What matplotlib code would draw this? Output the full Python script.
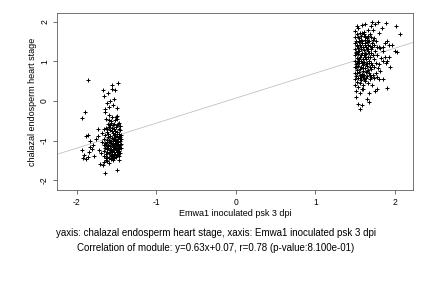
import matplotlib
matplotlib.use("Agg")
import matplotlib.pyplot as plt
import numpy as np

plt.rcParams['font.family'] = ['Liberation Sans', 'DejaVu Sans']

left_pts = [
(-1.93,-0.43),(-1.90,-0.27),(-1.86,0.53),(-1.94,-1.25),(-1.91,-1.36),(-1.92,-1.43),(-1.88,-1.47),(-1.86,-1.41),
(-1.89,-0.88),(-1.86,-0.86),(-1.84,-1.00),(-1.83,-1.16),(-1.81,-1.21),(-1.80,-1.12),(-1.85,-1.29),(-1.78,-1.38),
(-1.76,-0.96),(-1.74,-0.88),(-1.73,-0.71),(-1.72,-1.23),(-1.71,-1.58),(-1.70,-1.31),(-1.69,-1.03),(-1.68,-0.81),
(-1.67,-1.61),(-1.66,-1.54),(-1.65,-1.82),(-1.63,-1.50),(-1.67,0.28),(-1.66,0.12),(-1.645,-0.21),(-1.64,-0.29),
(-1.63,-0.46),(-1.62,-0.06),(-1.61,0.19),(-1.60,-0.16),(-1.59,-0.35),(-1.58,0.01),(-1.57,-0.51),(-1.56,0.40),
(-1.555,0.31),(-1.54,-0.11),(-1.53,0.06),(-1.52,0.27),(-1.51,-0.41),(-1.50,-0.37),(-1.49,-0.19),(-1.48,0.45),
(-1.47,-0.56),(-1.46,-0.63),(-1.50,-1.74),(-1.47,-1.48),
(-1.663,-0.72),(-1.657,-0.96),(-1.661,-1.11),(-1.654,-1.26),(-1.659,-1.38),(-1.648,-1.05),(-1.642,-1.19),(-1.637,-1.33),
(-1.645,-0.86),(-1.633,-0.69),(-1.639,-1.45),(-1.622,-0.98),(-1.618,-1.13),(-1.627,-1.28),(-1.615,-1.41),(-1.624,-0.78),
(-1.612,-0.59),(-1.620,-1.52),(-1.603,-0.91),(-1.598,-1.04),(-1.607,-1.18),(-1.596,-1.31),(-1.601,-1.43),(-1.594,-0.66),
(-1.605,-0.83),(-1.592,-1.56),(-1.583,-1.00),(-1.577,-1.15),(-1.586,-1.24),(-1.574,-1.36),(-1.581,-0.73),(-1.579,-0.88),
(-1.572,-1.46),(-1.568,-0.55),(-1.563,-0.94),(-1.558,-1.08),(-1.566,-1.21),(-1.553,-1.33),(-1.561,-1.42),(-1.556,-0.77),
(-1.549,-0.62),(-1.551,-1.50),(-1.559,-0.41),(-1.543,-1.02),(-1.537,-1.13),(-1.546,-1.22),(-1.534,-1.29),(-1.541,-1.38),
(-1.532,-0.86),(-1.539,-0.70),(-1.528,-1.45),(-1.531,-0.57),(-1.523,-0.92),(-1.518,-1.06),(-1.526,-1.16),(-1.514,-1.25),
(-1.521,-1.35),(-1.517,-0.76),(-1.512,-0.65),(-1.509,-1.41),(-1.524,-0.49),(-1.503,-1.00),(-1.497,-1.11),(-1.506,-1.19),
(-1.494,-1.30),(-1.501,-0.89),(-1.492,-0.79),(-1.499,-1.37),(-1.496,-0.60),(-1.489,-0.46),(-1.483,-0.95),(-1.478,-1.04),
(-1.486,-1.15),(-1.474,-1.26),(-1.481,-1.34),(-1.476,-0.83),(-1.472,-0.71),(-1.479,-0.58),(-1.463,-1.01),(-1.458,-1.12),
(-1.466,-1.21),(-1.455,-1.31),(-1.461,-0.91),(-1.457,-0.74),(-1.452,-0.63),(-1.468,-1.40),(-1.448,-1.08),(-1.446,-1.18),
(-1.450,-0.96),(-1.445,-0.85),
(-1.605,-1.10),(-1.585,-1.28),(-1.565,-1.02),(-1.545,-1.17),(-1.525,-1.09),(-1.505,-1.23),(-1.485,-1.09),(-1.465,-1.16),
(-1.615,-1.22),(-1.595,-0.98),(-1.575,-1.07),(-1.555,-1.27),(-1.535,-0.96),(-1.515,-1.19),(-1.495,-1.03),(-1.475,-1.20),
(-1.635,-1.12),(-1.625,-1.04),(-1.570,-1.40),(-1.550,-1.12),(-1.530,-1.33),(-1.510,-0.98),(-1.490,-1.25),(-1.470,-0.90),
(-1.540,-0.80),(-1.520,-0.84),(-1.580,-0.62),(-1.600,-0.48),(-1.620,-0.72),(-1.560,-0.68),
]

right_pts = [
(1.503,0.40),(1.498,0.55),(1.506,0.71),(1.501,0.86),(1.497,1.01),(1.504,1.16),(1.499,1.31),(1.502,1.46),(1.496,1.61),(1.508,0.26),(1.505,1.76),
(1.523,0.48),(1.518,0.63),(1.526,0.77),(1.514,0.93),(1.521,1.08),(1.517,1.23),(1.528,1.38),(1.512,1.52),(1.524,1.68),(1.519,0.11),(1.527,1.90),
(1.543,0.35),(1.537,0.58),(1.546,0.72),(1.534,0.88),(1.541,1.02),(1.532,1.18),(1.539,1.33),(1.548,1.48),(1.536,1.62),(1.544,-0.08),(1.538,1.85),
(1.563,0.45),(1.558,0.66),(1.566,0.80),(1.553,0.95),(1.561,1.12),(1.556,1.26),(1.569,1.42),(1.551,1.58),(1.564,1.72),(1.567,-0.20),(1.559,0.19),
(1.583,0.30),(1.577,0.52),(1.586,0.68),(1.574,0.85),(1.581,1.00),(1.579,1.15),(1.572,1.30),(1.588,1.45),(1.576,1.65),(1.584,1.92),(1.589,-0.11),
(1.603,0.40),(1.598,0.60),(1.607,0.75),(1.596,0.90),(1.601,1.05),(1.594,1.20),(1.605,1.35),(1.592,1.50),(1.609,1.70),(1.599,0.29),
(1.623,0.50),(1.618,0.65),(1.627,0.82),(1.615,0.98),(1.624,1.10),(1.612,1.28),(1.620,1.40),(1.629,1.55),(1.617,1.75),(1.622,1.95),
(1.643,0.58),(1.637,0.72),(1.646,0.88),(1.634,1.05),(1.641,1.18),(1.639,1.35),(1.648,1.48),(1.632,1.62),(1.645,0.05),
(1.663,0.45),(1.657,0.62),(1.666,0.78),(1.654,0.95),(1.661,1.12),(1.659,1.25),(1.668,1.42),(1.652,1.58),(1.665,1.80),(1.671,-0.03),
(1.683,0.55),(1.678,0.70),(1.686,0.85),(1.674,1.00),(1.681,1.20),(1.689,1.38),(1.676,1.52),(1.684,1.70),(1.680,0.20),
(1.703,0.60),(1.697,0.80),(1.706,0.95),(1.694,1.10),(1.701,1.30),(1.709,1.45),(1.699,1.62),(1.705,1.88),
(1.720,0.40),(1.725,0.65),(1.718,0.90),(1.723,1.15),(1.716,1.35),(1.728,1.55),(1.715,2.00),(1.727,1.78),
(1.740,0.58),(1.745,0.85),(1.738,1.05),(1.743,1.40),(1.736,1.60),(1.748,0.26),
(1.760,0.70),(1.765,0.95),(1.758,1.25),(1.763,1.50),(1.757,1.93),
(1.780,0.60),(1.785,0.82),(1.778,1.15),(1.783,1.35),(1.789,1.98),(1.776,0.31),
(1.800,0.55),(1.805,0.92),(1.798,1.36),(1.803,1.72),
(1.820,0.75),(1.825,1.08),(1.818,1.34),
(1.850,1.00),(1.848,1.36),(1.855,1.25),(1.852,0.55),(1.845,1.85),
(1.880,1.10),(1.875,1.45),(1.885,0.95),(1.890,1.97),
(1.900,0.33),(1.905,1.50),(1.898,1.00),
(1.930,1.42),(1.935,0.85),(1.925,1.12),
(1.960,1.40),(2.000,1.26),(2.020,1.90),(2.025,1.23),(2.070,1.70),
(1.51,1.20),(1.53,1.40),(1.55,1.05),(1.57,1.35),(1.59,0.95),(1.61,1.15),(1.63,1.45),(1.65,0.75),(1.67,1.30),(1.69,1.10),
(1.52,0.70),(1.54,1.25),(1.56,0.58),(1.58,1.55),(1.60,0.82),(1.62,1.22),(1.64,0.92),(1.66,1.52),(1.68,0.95),(1.70,1.20),
(1.51,0.85),(1.55,1.50),(1.59,1.72),(1.63,1.65),(1.67,1.65),(1.53,0.95),(1.57,0.62),(1.61,0.55),(1.65,1.30),(1.69,0.65),
]

slope = 0.63
intercept = 0.07
xlabel = "Emwa1 inoculated psk 3 dpi"
ylabel = "chalazal endosperm heart stage"
line1 = "yaxis: chalazal endosperm heart stage, xaxis: Emwa1 inoculated psk 3 dpi"
line2 = "Correlation of module: y=0.63x+0.07, r=0.78 (p-value:8.100e-01)"
xticks = [-2, -1, 0, 1, 2]
yticks = [-2, -1, 0, 1, 2]

pts = np.array(left_pts + right_pts)

fig = plt.figure(figsize=(6, 4), dpi=72)
ax = fig.add_axes([0.132, 0.340, 0.824, 0.615])
xlim = (-2.25, 2.23)
ylim = (-2.25, 2.22)
ax.set_xlim(*xlim)
ax.set_ylim(*ylim)
lx = np.array(xlim)
ax.plot(lx, slope * lx + intercept, color='#c0c0c0', lw=0.8, zorder=1)
ax.scatter(pts[:, 0], pts[:, 1], marker='+', s=24, c='black', linewidths=1.0, zorder=2)

ax.set_xticks(xticks)
ax.set_yticks(yticks)
ax.set_xticklabels([str(v) for v in xticks], fontsize=8.5)
ax.set_yticklabels([str(v) for v in yticks], fontsize=8.5, rotation=90, va='center')
ax.tick_params(direction='out', length=4, width=0.7, colors='#333333', labelcolor='black', pad=4)
for s in ax.spines.values():
    s.set_color('#555555')
    s.set_linewidth(0.8)
ax.set_xlabel(xlabel, fontsize=9, labelpad=2)
ax.set_ylabel(ylabel, fontsize=9, labelpad=3)
fig.text(0.5, 1 - 233/288, line1, ha='center', va='center', fontsize=9.8)
fig.text(0.5, 1 - 248/288, line2, ha='center', va='center', fontsize=9.8)

fig.savefig("out.png", dpi=72)
